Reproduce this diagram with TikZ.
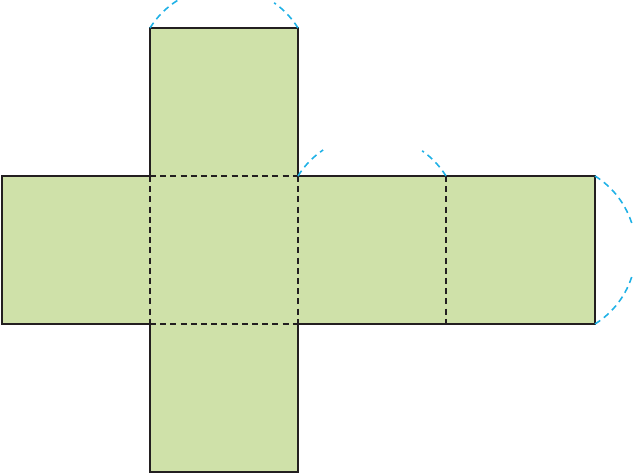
\documentclass[tikz,border=0pt]{standalone}
\definecolor{netgreen}{HTML}{CFE1A9}
\definecolor{netline}{HTML}{231F20}
\definecolor{arccyan}{HTML}{1FB1E6}
\tikzset{
    foldline/.style={netline,line width=0.6pt,dash pattern=on 1.7pt off 1.2pt},
    edgeline/.style={netline,line width=0.6pt,line join=miter},
    swingarc/.style={arccyan,line width=0.45pt,dash pattern=on 1.8pt off 1.3pt},
}
\begin{document}
\begin{tikzpicture}[x=0.01cm,y=0.01cm]
    \useasboundingbox (0,0) rectangle (633,473);
    % corners of the net
    \coordinate (west1) at (1.8,297);
    \coordinate (west2) at (1.8,149);
    \coordinate (a1) at (150,445);
    \coordinate (a2) at (298,445);
    \coordinate (b1) at (150,297);
    \coordinate (b2) at (298,297);
    \coordinate (b3) at (446,297);
    \coordinate (b4) at (595,297);
    \coordinate (c1) at (150,149);
    \coordinate (c2) at (298,149);
    \coordinate (c3) at (446,149);
    \coordinate (c4) at (595,149);
    \coordinate (d1) at (150,1);
    \coordinate (d2) at (298,1);
    \fill[netgreen] (a1) -- (a2) -- (b2) -- (b4) -- (c4) -- (c2) -- (d2) -- (d1) -- (c1) -- (west2) -- (west1) -- (b1) -- cycle;
    \draw[edgeline] (b1) -- (a1) -- (a2) -- (b2) -- (b4) -- (c4) -- (c2) -- (d2) -- (d1) -- (c1) -- (west2) -- (west1) -- (b1);
    \draw[foldline] (b1) -- (b2);
    \draw[foldline] (c1) -- (c2);
    \draw[foldline] (b1) -- (c1);
    \draw[foldline] (b2) -- (c2);
    \draw[foldline] (b3) -- (c3);
    % swing of the flaps
    \foreach \corner/\from/\to in {a1/148/122,a2/32/55,b2/148/124,b3/32/55}{
        \draw[swingarc] (\corner) arc[start angle=\from,end angle=\to,radius=87];
    }
    \draw[swingarc] (b4) arc[start angle=58,end angle=16,radius=87];
    \draw[swingarc] (c4) arc[start angle=-58,end angle=-16,radius=87];
\end{tikzpicture}
\end{document}
